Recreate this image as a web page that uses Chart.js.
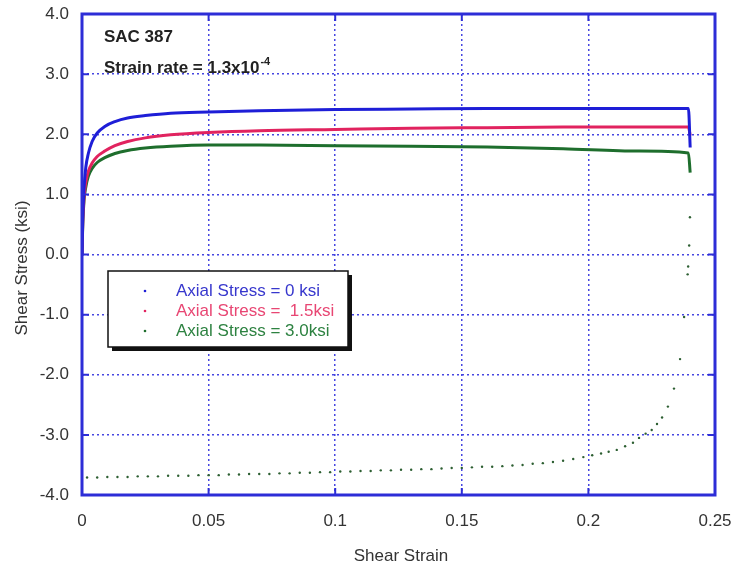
<!DOCTYPE html>
<html>
<head>
<meta charset="utf-8">
<script src="https://cdn.jsdelivr.net/npm/chart.js@4/dist/chart.umd.min.js"></script>
<style>
  html, body { margin: 0; padding: 0; background: #fff; }
  #wrap { width: 733px; height: 569px; }
</style>
</head>
<body>
<div id="wrap"><canvas id="stressChart" width="733" height="569"></canvas></div>
<script>
// loading curves (shear strain vs shear stress, ksi)
var strain = [0, 0.0003, 0.0008, 0.0015, 0.0025, 0.004, 0.006, 0.009, 0.013, 0.018, 0.025, 0.035, 0.05, 0.07, 0.1, 0.13, 0.16, 0.19, 0.22, 0.2395, 0.2402];
var stress0 = [0, 0.6, 1.1, 1.45, 1.68, 1.88, 2.02, 2.13, 2.21, 2.27, 2.31, 2.35, 2.37, 2.39, 2.41, 2.42, 2.43, 2.43, 2.43, 2.43, 1.78];
var stress15 = [0, 0.55, 0.95, 1.2, 1.38, 1.52, 1.63, 1.72, 1.81, 1.88, 1.94, 1.99, 2.03, 2.06, 2.08, 2.10, 2.11, 2.12, 2.12, 2.12, 1.98];
var stress30 = [0, 0.5, 0.9, 1.12, 1.3, 1.43, 1.53, 1.61, 1.68, 1.73, 1.77, 1.8, 1.82, 1.82, 1.81, 1.8, 1.79, 1.76, 1.72, 1.69, 1.36];

// scattered green dots after the 3.0 ksi test
var tailStrain = [0.002, 0.006, 0.010, 0.014, 0.018, 0.022, 0.026, 0.030, 0.034, 0.038, 0.042, 0.046, 0.050, 0.054, 0.058, 0.062, 0.066, 0.070, 0.074, 0.078,
    0.082, 0.086, 0.090, 0.094, 0.098, 0.102, 0.106, 0.110, 0.114, 0.118, 0.122, 0.126, 0.130, 0.134, 0.138, 0.142, 0.146, 0.150, 0.154, 0.158,
    0.162, 0.166, 0.170, 0.174, 0.178, 0.182, 0.186, 0.190, 0.194, 0.198, 0.2015, 0.205, 0.208, 0.2112, 0.2145, 0.2176, 0.22, 0.2226, 0.225, 0.2271,
    0.2291, 0.2314, 0.2338, 0.2362, 0.2378, 0.2392, 0.2394, 0.2398, 0.2401];
var tailStress = [-3.71, -3.71, -3.70, -3.70, -3.70, -3.69, -3.69, -3.69, -3.68, -3.68, -3.68, -3.67, -3.67, -3.67, -3.66, -3.66, -3.65, -3.65, -3.65, -3.64,
    -3.64, -3.63, -3.63, -3.62, -3.62, -3.61, -3.61, -3.60, -3.60, -3.59, -3.59, -3.58, -3.58, -3.57, -3.57, -3.56, -3.55, -3.55, -3.54, -3.53,
    -3.53, -3.52, -3.51, -3.50, -3.48, -3.47, -3.45, -3.43, -3.40, -3.37, -3.34, -3.31, -3.28, -3.25, -3.19, -3.13, -3.05, -2.98, -2.92, -2.82,
    -2.71, -2.53, -2.23, -1.74, -1.04, -0.33, -0.2, 0.15, 0.62];

var labels = ['Axial Stress = 0 ksi', 'Axial Stress =  1.5ksi', 'Axial Stress = 3.0ksi'];
var lineColors = ['rgb(30, 30, 215)', 'rgb(225, 35, 95)', 'rgb(30, 110, 45)'];
var textColors = ['rgb(55, 55, 205)', 'rgb(232, 70, 115)', 'rgb(45, 130, 65)'];

function pts(xs, ys) {
    var out = [];
    for (var i = 0; i < xs.length; i++) out.push({x: xs[i], y: ys[i]});
    return out;
}

var FONT = '"Liberation Sans", Arial, sans-serif';
var BLUE = 'rgb(45, 45, 215)';

const framePlugin = {
    id: 'frame',
    afterDraw(chart) {
        const ctx = chart.ctx;
        const a = chart.chartArea;
        const xs = chart.scales.x, ys = chart.scales.y;
        ctx.save();
        // solid frame
        ctx.strokeStyle = BLUE;
        ctx.lineWidth = 3;
        ctx.strokeRect(a.left, a.top, a.right - a.left, a.bottom - a.top);
        // short inward tick marks
        ctx.lineWidth = 2;
        ctx.beginPath();
        for (var v = -4; v <= 4; v++) {
            var py = ys.getPixelForValue(v);
            ctx.moveTo(a.left, py); ctx.lineTo(a.left + 7, py);
            ctx.moveTo(a.right, py); ctx.lineTo(a.right - 7, py);
        }
        for (var s = 0; s <= 0.25001; s += 0.05) {
            var px = xs.getPixelForValue(s);
            ctx.moveTo(px, a.bottom); ctx.lineTo(px, a.bottom - 7);
            ctx.moveTo(px, a.top); ctx.lineTo(px, a.top + 7);
        }
        ctx.stroke();

        // annotations
        ctx.fillStyle = '#222';
        ctx.textBaseline = 'middle';
        ctx.textAlign = 'left';
        ctx.font = 'bold 17px ' + FONT;
        ctx.fillText('SAC 387', 104, 37);
        var base = 'Strain rate = 1.3x10';
        ctx.fillText(base, 104, 68);
        var w = ctx.measureText(base).width;
        ctx.font = 'bold 11px ' + FONT;
        ctx.fillText('-4', 104 + w + 1, 62);

        // legend box with shadow
        var bx = 108, by = 271, bw = 240, bh = 76;
        ctx.fillStyle = '#111';
        ctx.fillRect(bx + 4, by + 4, bw, bh);
        ctx.fillStyle = '#fff';
        ctx.fillRect(bx, by, bw, bh);
        ctx.strokeStyle = '#111';
        ctx.lineWidth = 1.5;
        ctx.strokeRect(bx, by, bw, bh);
        ctx.font = '17px ' + FONT;
        for (var i = 0; i < labels.length; i++) {
            var cy = 291 + i * 20;
            ctx.fillStyle = lineColors[i];
            ctx.beginPath();
            ctx.arc(145, cy, 1.3, 0, Math.PI * 2);
            ctx.fill();
            ctx.fillStyle = textColors[i];
            ctx.fillText(labels[i], 176, cy);
        }

        // axis titles
        ctx.fillStyle = '#333';
        ctx.font = '17px ' + FONT;
        ctx.textAlign = 'center';
        ctx.fillText('Shear Strain', 401, 556);
        ctx.translate(22, 268);
        ctx.rotate(-Math.PI / 2);
        ctx.fillText('Shear Stress (ksi)', 0, 0);
        ctx.restore();
    }
};

const config = {
    type: 'scatter',
    data: {
        datasets: [
            { label: labels[0], data: pts(strain, stress0), showLine: true, borderColor: lineColors[0], backgroundColor: lineColors[0], borderWidth: 3, pointRadius: 0, cubicInterpolationMode: 'monotone' },
            { label: labels[1], data: pts(strain, stress15), showLine: true, borderColor: lineColors[1], backgroundColor: lineColors[1], borderWidth: 3, pointRadius: 0, cubicInterpolationMode: 'monotone' },
            { label: labels[2], data: pts(strain, stress30), showLine: true, borderColor: lineColors[2], backgroundColor: lineColors[2], borderWidth: 3, pointRadius: 0, cubicInterpolationMode: 'monotone' },
            { label: 'tail', data: pts(tailStrain, tailStress), showLine: false, borderColor: 'rgb(45, 95, 50)', backgroundColor: 'rgb(45, 95, 50)', pointRadius: 1.2, pointBorderWidth: 0 }
        ]
    },
    options: {
        responsive: false,
        animation: false,
        layout: { padding: { top: 14, right: 18, left: 0, bottom: 0 } },
        plugins: { legend: { display: false }, tooltip: { enabled: false } },
        scales: {
            x: {
                type: 'linear',
                min: 0, max: 0.25,
                afterFit(scale) { scale.height = 74; scale.paddingRight = 0; scale.paddingLeft = 0; },
                grid: { color: 'rgb(70, 70, 225)', lineWidth: 1.5, drawTicks: false },
                border: { display: false, dash: [2, 3] },
                ticks: {
                    stepSize: 0.05, padding: 16, color: '#333',
                    font: { size: 17, family: FONT },
                    callback: function (v) { return String(Number(v.toFixed(2))); }
                }
            },
            y: {
                min: -4, max: 4,
                afterFit(scale) { scale.width = 82; scale.paddingTop = 0; scale.paddingBottom = 0; },
                grid: { color: 'rgb(70, 70, 225)', lineWidth: 1.5, drawTicks: false },
                border: { display: false, dash: [2, 3] },
                ticks: {
                    stepSize: 1, padding: 13, color: '#333',
                    font: { size: 17, family: FONT },
                    callback: function (v) { return v.toFixed(1); }
                }
            }
        }
    },
    plugins: [framePlugin]
};

const stressChart = new Chart(document.getElementById('stressChart'), config);
</script>
</body>
</html>
